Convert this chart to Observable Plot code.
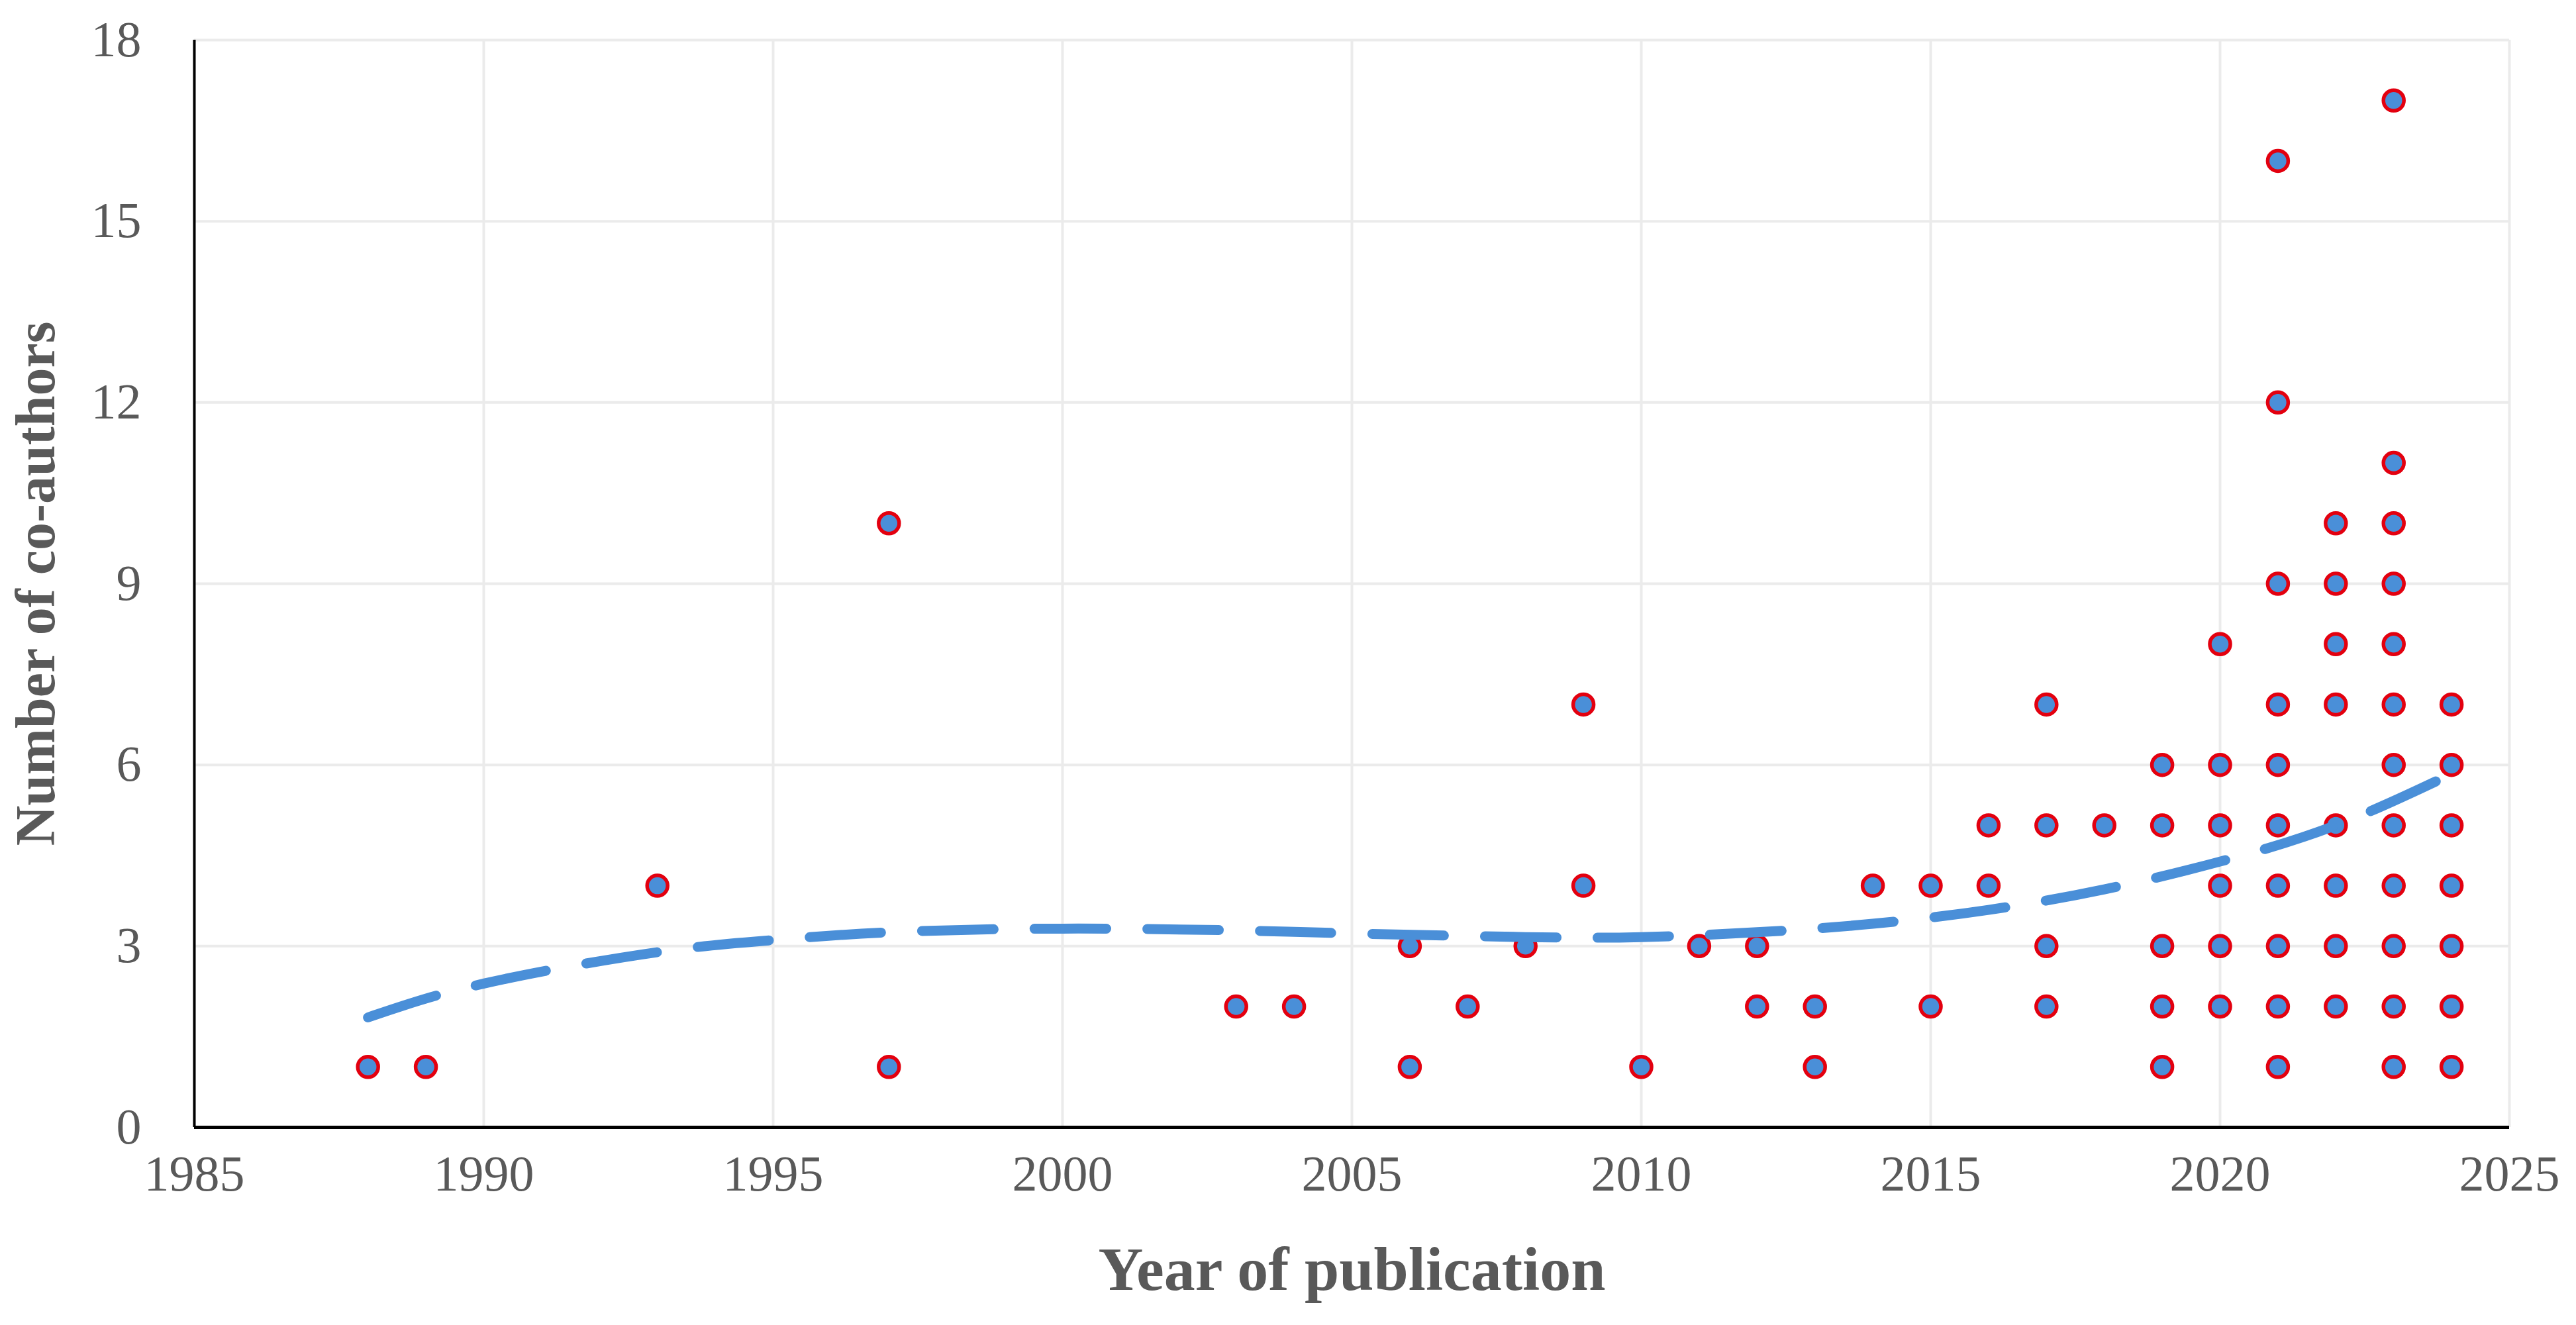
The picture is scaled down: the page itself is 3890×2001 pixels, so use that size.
<!DOCTYPE html>
<html>
<head>
<meta charset="utf-8">
<script src="https://cdn.jsdelivr.net/npm/d3@7"></script>
<script src="https://cdn.jsdelivr.net/npm/@observablehq/plot@0.6"></script>
<style>
  html, body { margin: 0; padding: 0; background: #ffffff; }
  #chart svg { display: block; }
</style>
</head>
<body>
<div id="chart"></div>
<script>
// Publication year of each paper and its number of co-authors
const pubYears = [
  1988, 1989, 1993, 1997, 1997, 2003, 2004, 2006, 2006, 2007, 2008, 2009, 2009, 2010,
  2011, 2012, 2012, 2013, 2013, 2014, 2015, 2015, 2016, 2016,
  2017, 2017, 2017, 2017, 2018,
  2019, 2019, 2019, 2019, 2019,
  2020, 2020, 2020, 2020, 2020, 2020,
  2021, 2021, 2021, 2021, 2021, 2021, 2021, 2021, 2021, 2021,
  2022, 2022, 2022, 2022, 2022, 2022, 2022, 2022,
  2023, 2023, 2023, 2023, 2023, 2023, 2023, 2023, 2023, 2023, 2023, 2023,
  2024, 2024, 2024, 2024, 2024, 2024, 2024
];
const coAuthors = [
  1, 1, 4, 10, 1, 2, 2, 3, 1, 2, 3, 7, 4, 1,
  3, 3, 2, 2, 1, 4, 4, 2, 5, 4,
  7, 5, 3, 2, 5,
  6, 5, 3, 2, 1,
  8, 6, 5, 4, 3, 2,
  16, 12, 9, 7, 6, 5, 4, 3, 2, 1,
  10, 9, 8, 7, 5, 4, 3, 2,
  17, 11, 10, 9, 8, 7, 6, 5, 4, 3, 2, 1,
  7, 6, 5, 4, 3, 2, 1
];

// Trend line (dashed)
const trendYears  = [1988, 1990, 1993, 1995, 1997, 2000, 2003, 2005, 2008, 2010, 2012, 2014, 2016, 2018, 2020, 2022, 2024];
const trendValues = [1.82, 2.38, 2.9, 3.1, 3.23, 3.29, 3.26, 3.21, 3.15, 3.15, 3.23, 3.37, 3.6, 3.94, 4.4, 5.0, 5.85];

const xTicks = [1985, 1990, 1995, 2000, 2005, 2010, 2015, 2020, 2025];
const yTicks = [0, 3, 6, 9, 12, 15, 18];

const xTitle = "Year of publication";
const yTitle = "Number of co-authors";

const points = pubYears.map((y, i) => ({year: y, n: coAuthors[i]}));
const trend = trendYears.map((y, i) => ({year: y, v: trendValues[i]}));

const textColor = "#595959";
const font = "'Liberation Serif', 'DejaVu Serif', serif";

const chart = Plot.plot({
  width: 3890,
  height: 2001,
  marginLeft: 293,
  marginRight: 101,
  marginTop: 60,
  marginBottom: 299,
  style: {fontFamily: font, background: "#ffffff"},
  x: {domain: [1985, 2025]},
  y: {domain: [0, 18]},
  marks: [
    Plot.gridX(xTicks.filter(d => d > 1985), {stroke: "#ebebeb", strokeOpacity: 1, strokeWidth: 4}),
    Plot.gridY(yTicks.filter(d => d > 0), {stroke: "#ebebeb", strokeOpacity: 1, strokeWidth: 4}),
    Plot.axisX(xTicks, {tickSize: 0, tickPadding: 42, fontSize: 76, fill: textColor, tickFormat: d => String(d), label: null}),
    Plot.axisY(yTicks, {tickSize: 0, tickPadding: 80, fontSize: 76, fill: textColor, tickFormat: d => String(d), label: null}),
    Plot.ruleX([1985], {stroke: "#000000", strokeWidth: 4}),
    Plot.ruleY([0], {stroke: "#000000", strokeWidth: 5}),
    Plot.dot(points, {x: "year", y: "n", r: 15.5, fill: "#4a8fd8", stroke: "#e3000f", strokeWidth: 5.5}),
    Plot.line(trend, {x: "year", y: "v", curve: "natural", stroke: "#4a8fd8", strokeWidth: 15,
      strokeDasharray: "108,62", strokeLinecap: "round"}),
    Plot.text([xTitle], {frameAnchor: "bottom", dy: 245, fontSize: 94, fontWeight: "bold", fill: textColor, text: d => d}),
    Plot.text([yTitle], {frameAnchor: "left", textAnchor: "middle", dx: -238, rotate: -90, fontSize: 84, fontWeight: "bold", fill: textColor, text: d => d})
  ]
});

document.getElementById("chart").appendChild(chart);
</script>
</body>
</html>
